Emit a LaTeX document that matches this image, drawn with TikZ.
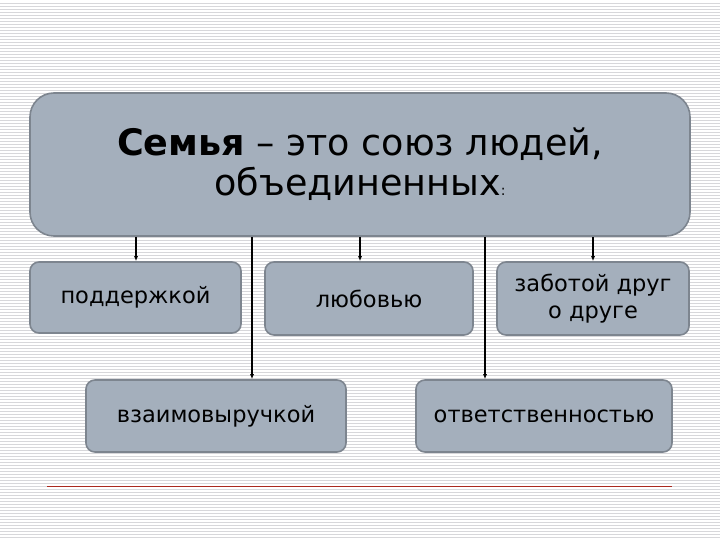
\documentclass[tikz,border=0pt]{standalone}
\usepackage{fontspec}
\setmainfont{DejaVu Sans}
\usetikzlibrary{arrows.meta}
\definecolor{boxfill}{RGB}{164,175,188}
\definecolor{boxline}{RGB}{125,133,143}
\definecolor{stripe}{RGB}{215,215,218}
\definecolor{redl}{RGB}{170,40,30}
\begin{document}
\begin{tikzpicture}[x=1pt,y=-1pt,
  bx/.style={draw=boxline,line width=1.6pt,fill=boxfill,rounded corners=9pt,inner sep=0pt,align=center,font=\fontsize{22.5}{27}\selectfont},
  arr/.style={-{Latex[length=5pt,width=4pt]},line width=1.5pt}]
\useasboundingbox (0,0) rectangle (720,540);
\fill[white] (0,0) rectangle (720,540);
\foreach \y in {0,3,...,540} \draw[stripe,line width=0.6pt] (0,\y) -- (720,\y);
\fill[white] (0,0) rectangle (720,2);
\node[bx,rounded corners=24pt,minimum width=660pt,minimum height=143pt,font=\fontsize{36.5}{40}\selectfont] (m) at (360,164.5) {\textbf{Семья} – это союз людей,\\ объединенных{\fontsize{14}{14}\selectfont:}};
\node[bx,minimum width=211pt,minimum height=71pt] (a) at (135.5,297.5) {поддержкой};
\node[bx,minimum width=208pt,minimum height=73pt] (b) at (369,298.5) {любовью};
\node[bx,minimum width=192pt,minimum height=73pt] (c) at (593,298.5) {заботой друг\\о друге};
\node[bx,minimum width=260pt,minimum height=72pt] (d) at (216,416) {взаимовыручкой};
\node[bx,minimum width=256pt,minimum height=72pt] (e) at (544,416) {ответственностью};
\draw[arr] (m.south -| 136,0) -- (a.north -| 136,0);
\draw[arr] (m.south -| 252,0) -- (d.north -| 252,0);
\draw[arr] (m.south -| 360,0) -- (b.north -| 360,0);
\draw[arr] (m.south -| 485,0) -- (e.north -| 485,0);
\draw[arr] (m.south -| 593,0) -- (c.north -| 593,0);
\draw[redl,line width=0.8pt] (47,486) -- (672,486);
\end{tikzpicture}
\end{document}
